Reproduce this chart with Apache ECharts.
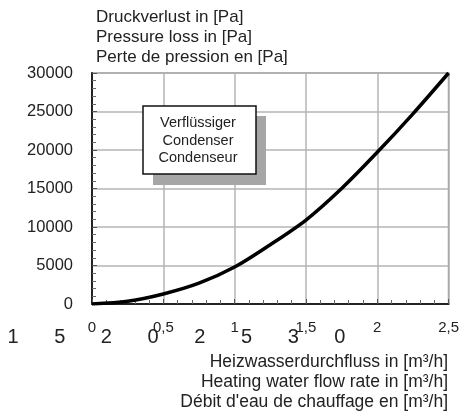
<!DOCTYPE html>
<html>
<head>
<meta charset="utf-8">
<script src="https://cdn.jsdelivr.net/npm/echarts@6/dist/echarts.min.js"></script>
<style>
  html, body { margin: 0; padding: 0; background: #fff; }
  #chart { width: 462px; height: 412px; }
</style>
</head>
<body>
<div id="chart"></div>
<script>
// flow rate (m3/h) vs pressure loss (Pa)
const flowRate = [0, 0.25, 0.5, 0.75, 1, 1.25, 1.5, 1.75, 2, 2.25, 2.5];
const pressureLoss = [0, 350, 1300, 2700, 4800, 7700, 10900, 15000, 19700, 24700, 30000];

const yTitle = ["Druckverlust in [Pa]", "Pressure loss in [Pa]", "Perte de pression en [Pa]"];
const xTitle = ["Heizwasserdurchfluss in [m³/h]", "Heating water flow rate in [m³/h]", "Débit d'eau de chauffage en [m³/h]"];
const boxLines = ["Verflüssiger", "Condenser", "Condenseur"];
// stray large digits printed under the axis in the original
const strayDigits = ["1", "5", "2", "0", "2", "5", "3", "0"];

const font = "Liberation Sans, Arial, sans-serif";
const chart = echarts.init(document.getElementById("chart"));

const graphic = [];
yTitle.forEach((t, i) => {
  graphic.push({
    type: "text", x: 96, y: 17 + i * 20,
    style: { text: t, font: "17px " + font, fill: "#222", textVerticalAlign: "middle" }
  });
});
xTitle.forEach((t, i) => {
  graphic.push({
    type: "text", x: 448, y: 362 + i * 20,
    style: { text: t, font: "17.5px " + font, fill: "#222", textAlign: "right", textVerticalAlign: "middle" }
  });
});
strayDigits.forEach((d, i) => {
  graphic.push({
    type: "text", x: 13 + i * 46.7, y: 337,
    style: { text: d, font: "20px " + font, fill: "#222", textAlign: "center", textVerticalAlign: "middle" }
  });
});
// annotation box with drop shadow
graphic.push({
  type: "rect", shape: { x: 153, y: 116, width: 113, height: 69 },
  style: { fill: "#a6a6a6" }, z: 10
});
graphic.push({
  type: "rect", shape: { x: 143, y: 106, width: 113, height: 68 },
  style: { fill: "#fff", stroke: "#111", lineWidth: 1.5 }, z: 11
});
boxLines.forEach((t, i) => {
  graphic.push({
    type: "text", x: 198, y: 123 + i * 17.5, z: 12,
    style: { text: t, font: "14.5px " + font, fill: "#222", textAlign: "center", textVerticalAlign: "middle" }
  });
});

const option = {
  animation: false,
  backgroundColor: "#fff",
  grid: {
    left: 92, right: 13, top: 73, bottom: 108,
    show: true, borderColor: "#8a8a8a", borderWidth: 1.5
  },
  xAxis: {
    type: "value", min: 0, max: 2.5, interval: 0.5,
    axisLine: { show: true, lineStyle: { color: "#222", width: 2 } },
    axisTick: { show: true, inside: true, length: 5, lineStyle: { color: "#555" } },
    minorTick: { show: true, splitNumber: 5, length: 4, lineStyle: { color: "#666" } },
    splitLine: { show: true, lineStyle: { color: "#b5b5b5", width: 1.5 } },
    axisLabel: {
      margin: 16, fontSize: 15, color: "#222", fontFamily: font,
      formatter: v => String(v).replace(".", ",")
    }
  },
  yAxis: {
    type: "value", min: 0, max: 30000, interval: 5000,
    axisLine: { show: true, lineStyle: { color: "#222", width: 2 } },
    axisTick: { show: true, inside: true, length: 5, lineStyle: { color: "#555" } },
    minorTick: { show: true, splitNumber: 5, length: 4, lineStyle: { color: "#666" } },
    splitLine: { show: true, lineStyle: { color: "#b5b5b5", width: 1.5 } },
    axisLabel: { margin: 19, fontSize: 16.5, color: "#222", fontFamily: font, formatter: v => String(v) }
  },
  series: [{
    type: "line",
    data: flowRate.map((x, i) => [x, pressureLoss[i]]),
    smooth: 0.3,
    showSymbol: false,
    lineStyle: { color: "#000", width: 3.5 },
    z: 5
  }],
  graphic: graphic
};

chart.setOption(option);
</script>
</body>
</html>
